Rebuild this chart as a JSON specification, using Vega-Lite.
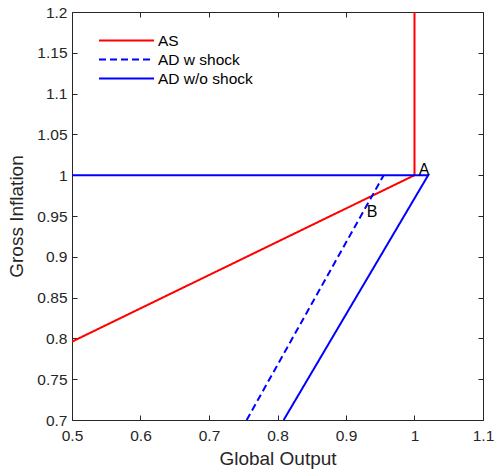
{
  "$schema": "https://vega.github.io/schema/vega-lite/v6.json",
  "width": 411,
  "height": 408,
  "autosize": {"type": "none"},
  "padding": {"left": 72, "top": 12, "right": 13, "bottom": 52},
  "background": "white",
  "config": {
    "view": {"stroke": "#262626", "strokeWidth": 1},
    "font": "Liberation Sans",
    "axis": {
      "grid": false,
      "domain": false,
      "ticks": true,
      "zindex": 1,
      "offset": -5,
      "tickSize": 5,
      "tickWidth": 1,
      "tickColor": "#262626",
      "labelColor": "#262626",
      "titleColor": "#262626",
      "labelFont": "Liberation Sans",
      "titleFont": "Liberation Sans",
      "labelFontSize": 15.5,
      "titleFontSize": 19,
      "titleFontWeight": "normal"
    }
  },
  "layer": [
    {
      "data": {
        "values": [
          {"series": "AS", "order": 1, "x": 0.5, "y": 0.796},
          {"series": "AS", "order": 2, "x": 1.0, "y": 1.0},
          {"series": "AS", "order": 3, "x": 1.0, "y": 1.2},
          {"series": "AD w shock", "order": 1, "x": 0.755, "y": 0.7},
          {"series": "AD w shock", "order": 2, "x": 0.955, "y": 1.0},
          {"series": "AD w/o shock", "order": 1, "x": 0.5, "y": 1.0},
          {"series": "AD w/o shock", "order": 2, "x": 1.02, "y": 1.0},
          {"series": "AD w/o shock", "order": 3, "x": 0.809, "y": 0.7}
        ]
      },
      "mark": {"type": "line", "strokeWidth": 2, "clip": true},
      "encoding": {
        "x": {
          "field": "x", "type": "quantitative",
          "scale": {"domain": [0.5, 1.1], "nice": false, "zero": false},
          "axis": {"title": "Global Output", "values": [0.5, 0.6, 0.7, 0.8, 0.9, 1, 1.1], "format": "~g", "labelPadding": 8, "titlePadding": 6, "labelFlush": false}
        },
        "y": {
          "field": "y", "type": "quantitative",
          "scale": {"domain": [0.7, 1.2], "nice": false, "zero": false},
          "axis": {"title": "Gross Inflation", "values": [0.7, 0.75, 0.8, 0.85, 0.9, 0.95, 1, 1.05, 1.1, 1.15, 1.2], "format": "~g", "labelPadding": 5, "titlePadding": 10, "labelFlush": false}
        },
        "order": {"field": "order", "type": "quantitative"},
        "color": {
          "field": "series", "type": "nominal",
          "scale": {"domain": ["AS", "AD w shock", "AD w/o shock"], "range": ["#FF0000", "#0000FF", "#0000FF"]},
          "legend": {
            "title": null, "orient": "none", "legendX": 26, "legendY": 19,
            "symbolType": "stroke", "symbolSize": 3025, "symbolStrokeWidth": 2,
            "labelFontSize": 15.5, "labelColor": "#000000", "labelFont": "Liberation Sans",
            "rowPadding": 0, "clipHeight": 19, "labelOffset": 3
          }
        },
        "strokeDash": {
          "field": "series", "type": "nominal",
          "scale": {"domain": ["AS", "AD w shock", "AD w/o shock"], "range": [[1, 0], [7, 4], [1, 0]]},
          "legend": {
            "title": null, "orient": "none", "legendX": 26, "legendY": 19,
            "symbolType": "stroke", "symbolSize": 3025, "symbolStrokeWidth": 2,
            "labelFontSize": 15.5, "labelColor": "#000000", "labelFont": "Liberation Sans",
            "rowPadding": 0, "clipHeight": 19, "labelOffset": 3
          }
        }
      }
    },
    {
      "data": {
        "values": [
          {"label": "A", "x": 1.014, "y": 1.006},
          {"label": "B", "x": 0.938, "y": 0.955}
        ]
      },
      "mark": {"type": "text", "fontSize": 16, "font": "Liberation Sans", "color": "#000000"},
      "encoding": {
        "x": {"field": "x", "type": "quantitative", "scale": {"domain": [0.5, 1.1], "nice": false, "zero": false}, "axis": {"orient": "top", "labels": false, "title": null, "values": [0.5, 0.6, 0.7, 0.8, 0.9, 1, 1.1]}},
        "y": {"field": "y", "type": "quantitative", "scale": {"domain": [0.7, 1.2], "nice": false, "zero": false}, "axis": {"orient": "right", "labels": false, "title": null, "values": [0.7, 0.75, 0.8, 0.85, 0.9, 0.95, 1, 1.05, 1.1, 1.15, 1.2]}},
        "text": {"field": "label", "type": "nominal"}
      }
    }
  ],
  "resolve": {"axis": {"x": "independent", "y": "independent"}}
}
